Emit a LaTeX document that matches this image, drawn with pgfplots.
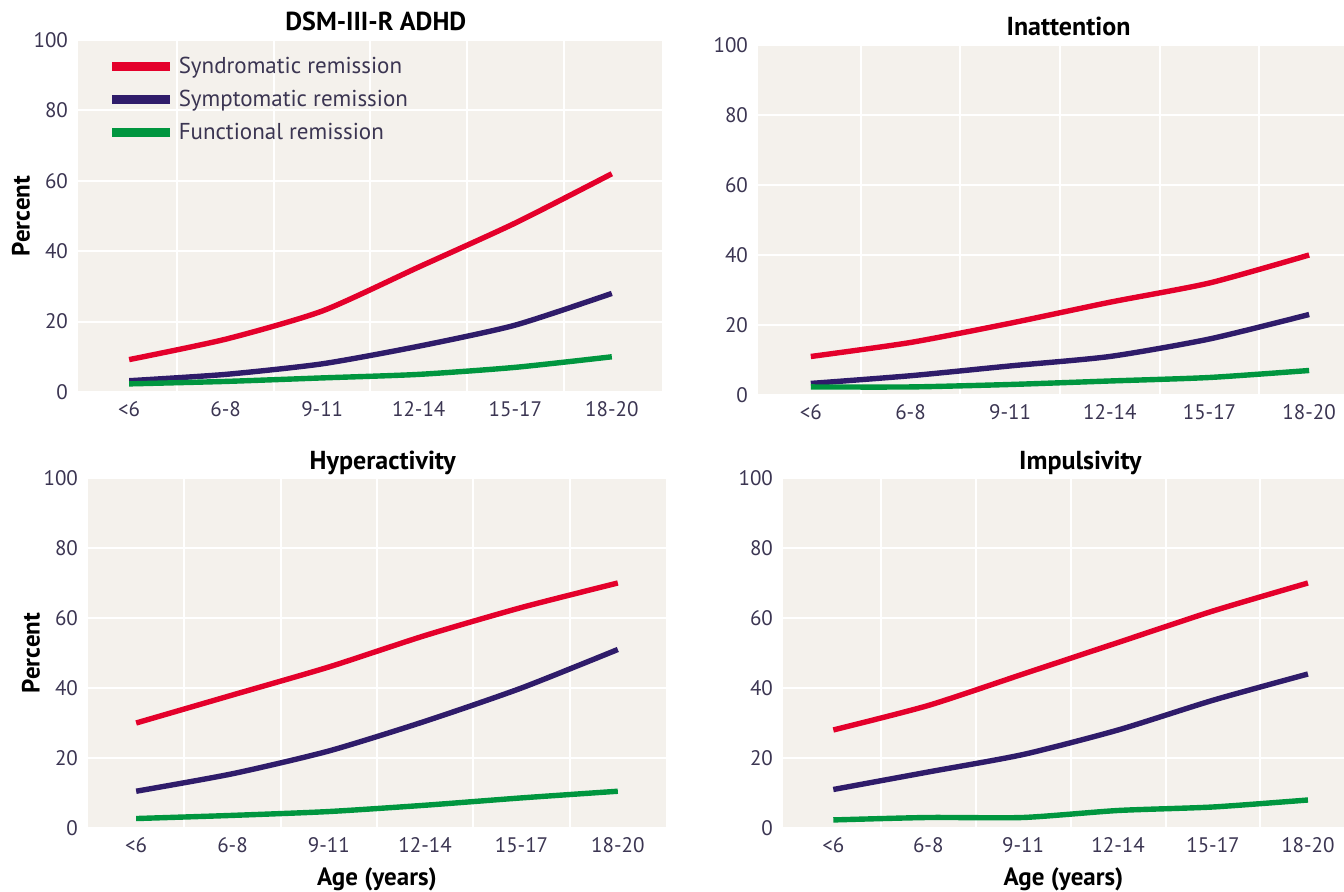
\documentclass[border=0pt]{standalone}
\usepackage{fontspec}
\setmainfont{PT Sans}
\usepackage{pgfplots}
\pgfplotsset{compat=1.18}
\definecolor{bgc}{HTML}{F4F1EC}
\definecolor{sred}{HTML}{E4002B}
\definecolor{spur}{HTML}{2F1C6A}
\definecolor{sgrn}{HTML}{00963F}
\definecolor{tickc}{HTML}{3B3552}
\pgfplotsset{
 panel/.style={
  scale only axis, height=175pt,
  ymin=0, ymax=100, ytick={0,20,...,100},
  xtick={0,...,5}, xticklabels={<6,6-8,9-11,12-14,15-17,18-20},
  minor xtick={0.5,1.5,2.5,3.5,4.5},
  xminorgrids, ymajorgrids,
  grid style={white, line width=1pt}, minor grid style={white, line width=1pt},
  axis line style={draw=none}, major tick length=0pt, minor tick length=0pt,
  axis background/.style={fill=bgc},
  tick label style={font=\fontsize{10.5}{12}\selectfont, text=tickc},
  yticklabel style={xshift=-1.5pt},
  xticklabel style={yshift=-1pt},
  /pgf/number format/assume math mode=true,
  title style={font=\bfseries\fontsize{13}{15}\selectfont, anchor=center},
  label style={font=\bfseries\fontsize{12.5}{14}\selectfont},
  ylabel shift=-5pt, xlabel shift=1pt,
  every axis plot/.append style={line width=2.7pt, smooth, tension=0.4},
  anchor=south west,
 }
}
\begin{document}
\begin{tikzpicture}
\useasboundingbox (0,0) rectangle (672pt,446pt);
% Top-left
\begin{axis}[panel, at={(39pt,250pt)}, width=292pt, height=176pt, xmin=-0.53, xmax=5.52,
  title={DSM-III-R ADHD}, title style={at={(0.51,1)}, yshift=3.25pt},
  ylabel={Percent},
  legend style={draw=none, fill=none, at={(0.04,0.975)}, anchor=north west,
    font=\fontsize{11.5}{13}\selectfont, text=tickc, row sep=2.8pt},
  legend cell align=left,
  legend image code/.code={\draw[line width=4.5pt] (0pt,0pt) -- (29pt,0pt);}]
\addplot[sred] coordinates {(0,9.2) (1,15) (2,23) (3,35.5) (4,48) (5,62)};
\addplot[spur] coordinates {(0,3.2) (1,5) (2,8) (3,13) (4,19) (5,28)};
\addplot[sgrn] coordinates {(0,2.3) (1,3) (2,4) (3,5) (4,7) (5,10)};
\legend{Syndromatic remission, Symptomatic remission, Functional remission}
\end{axis}
% Top-right
\begin{axis}[panel, at={(379pt,248.5pt)}, width=293pt, xmin=-0.53, xmax=5.35,
  title={Inattention}, title style={at={(0.53,1)}, yshift=3.25pt}]
\addplot[sred] coordinates {(0,11) (1,15) (2,20.5) (3,26.5) (4,32) (5,40)};
\addplot[spur] coordinates {(0,3.3) (1,5.5) (2,8.3) (3,11) (4,16) (5,23)};
\addplot[sgrn] coordinates {(0,2.3) (1,2.3) (2,3) (3,4) (4,5) (5,7)};
\end{axis}
% Bottom-left
\begin{axis}[panel, at={(44pt,32pt)}, width=289pt, xmin=-0.5, xmax=5.5,
  title={Hyperactivity}, title style={at={(0.51,1)}, yshift=1.75pt},
  ylabel={Percent}, xlabel={Age (years)}]
\addplot[sred] coordinates {(0,30) (1,38) (2,46) (3,55) (4,63) (5,70)};
\addplot[spur] coordinates {(0,10.5) (1,15.5) (2,22) (3,30.5) (4,40) (5,51)};
\addplot[sgrn] coordinates {(0,2.7) (1,3.6) (2,4.7) (3,6.5) (4,8.6) (5,10.5)};
\end{axis}
% Bottom-right
\begin{axis}[panel, at={(391.5pt,32pt)}, width=280.5pt, xmin=-0.53, xmax=5.38,
  title={Impulsivity}, title style={at={(0.53,1)}, yshift=1.75pt},
  xlabel={Age (years)}]
\addplot[sred] coordinates {(0,28) (1,35) (2,44) (3,53) (4,62) (5,70)};
\addplot[spur] coordinates {(0,11) (1,16) (2,21) (3,28) (4,36.5) (5,44)};
\addplot[sgrn] coordinates {(0,2.3) (1,3) (2,3) (3,5) (4,6) (5,8)};
\end{axis}
\end{tikzpicture}
\end{document}
